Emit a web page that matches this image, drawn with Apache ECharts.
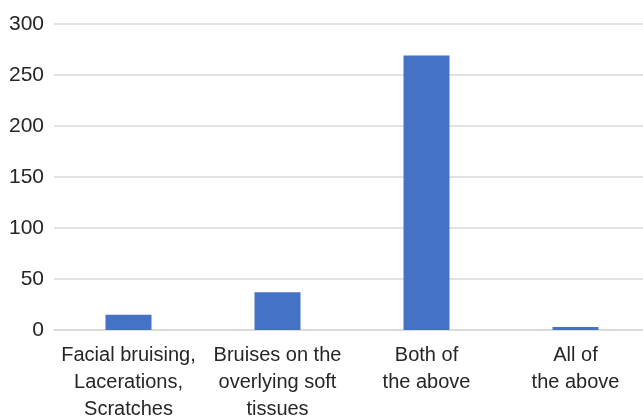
<!DOCTYPE html>
<html>
<head>
<meta charset="utf-8">
<script src="https://cdn.jsdelivr.net/npm/echarts@6/dist/echarts.min.js"></script>
<style>
  html, body { margin: 0; padding: 0; background: #ffffff; }
  #chart { width: 643px; height: 420px; }
</style>
</head>
<body>
<div id="chart"></div>
<script>
// Injury categories and patient counts
const categories = [
  'Facial bruising,\nLacerations,\nScratches',
  'Bruises on the\noverlying soft\ntissues',
  'Both of\nthe above',
  'All of\nthe above'
];
const counts = [15, 37, 269, 3];
const yTicks = { min: 0, max: 300, interval: 50 };

const chart = echarts.init(document.getElementById('chart'), null, { renderer: 'canvas' });

chart.setOption({
  animation: false,
  backgroundColor: '#ffffff',
  grid: { left: 54, top: 24, width: 596, height: 306, outerBoundsMode: 'none', containLabel: false },
  xAxis: {
    type: 'category',
    data: categories,
    axisLine: { show: true, lineStyle: { color: '#d9d9d9', width: 1.5 } },
    axisTick: { show: false },
    axisLabel: {
      interval: 0,
      margin: 12,
      color: '#262626',
      fontFamily: 'Liberation Sans, Arial, sans-serif',
      fontSize: 20,
      lineHeight: 27,
      align: 'center'
    }
  },
  yAxis: {
    type: 'value',
    min: yTicks.min,
    max: yTicks.max,
    interval: yTicks.interval,
    axisLine: { show: false },
    axisTick: { show: false },
    splitLine: { lineStyle: { color: '#d9d9d9', width: 1.5 } },
    axisLabel: {
      margin: 10,
      color: '#262626',
      fontFamily: 'Liberation Sans, Arial, sans-serif',
      fontSize: 21
    }
  },
  series: [{
    type: 'bar',
    data: counts,
    barWidth: 46,
    itemStyle: { color: '#4472c4' }
  }]
});
</script>
</body>
</html>
